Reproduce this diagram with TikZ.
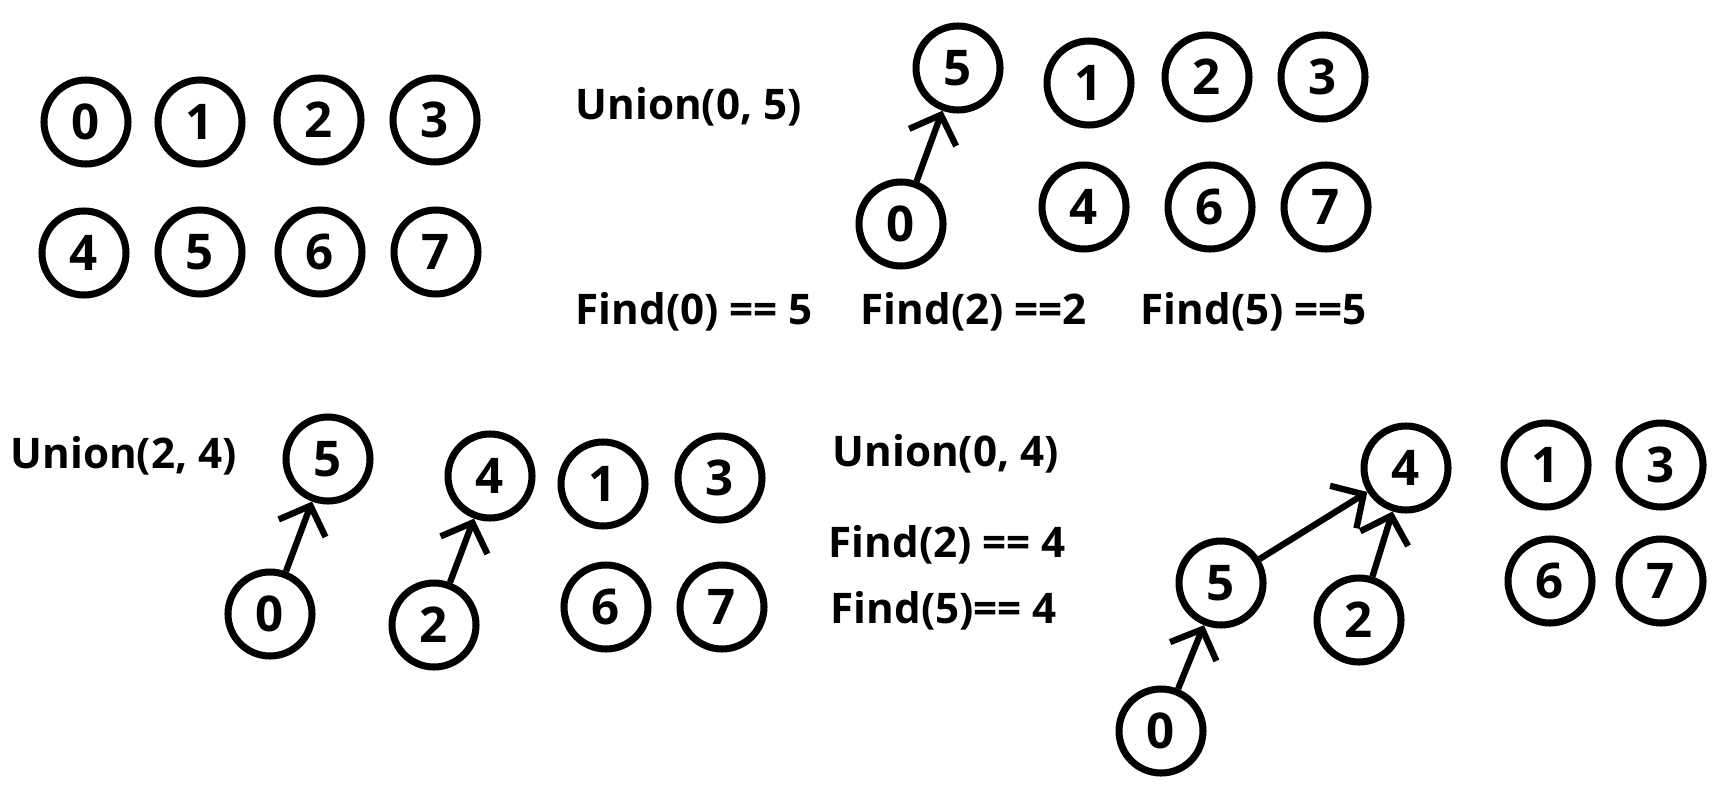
\documentclass[tikz,border=0pt]{standalone}
\usepackage{fontspec}
\setmainfont{Open Sans}
\usetikzlibrary{arrows.meta}

\begin{document}
\begin{tikzpicture}[x=1cm, y=-1cm,
	elem/.style={draw, circle, line width=2pt, minimum size=0.84cm, inner sep=0pt, font=\fontsize{14}{16}\selectfont\bfseries},
	op/.style={anchor=west, inner sep=0pt, font=\fontsize{12}{14}\selectfont\bfseries},
	link/.style={line width=1.8pt, -{Straight Barb[length=2.4mm, width=5mm, line width=1.8pt]}}]
		\useasboundingbox (0,0) rectangle (17.36,7.94);

		% start: every element alone
		\node[elem] (a0) at (0.86,1.22) {0};
		\node[elem] (a1) at (2.00,1.22) {1};
		\node[elem] (a2) at (3.19,1.20) {2};
		\node[elem] (a3) at (4.35,1.20) {3};
		\node[elem] (a4) at (0.84,2.53) {4};
		\node[elem] (a5) at (2.00,2.52) {5};
		\node[elem] (a6) at (3.20,2.52) {6};
		\node[elem] (a7) at (4.36,2.52) {7};

		% after Union(0, 5)
		\node[op] (u1) at (5.75,1.07) {Union(0, 5)};
		\node[elem] (b5) at (9.58,0.68) {5};
		\node[elem] (b0) at (9.01,2.24) {0};
		\node[elem] (b1) at (10.89,0.83) {1};
		\node[elem] (b2) at (12.07,0.77) {2};
		\node[elem] (b3) at (13.23,0.77) {3};
		\node[elem] (b4) at (10.84,2.07) {4};
		\node[elem] (b6) at (12.10,2.07) {6};
		\node[elem] (b7) at (13.26,2.07) {7};
		\draw[link] (b0) -- (b5);
		\node[op] (f1) at (5.75,3.12) {Find(0) == 5};
		\node[op] (f2) at (8.60,3.12) {Find(2) ==2};
		\node[op] (f3) at (11.40,3.12) {Find(5) ==5};

		% after Union(2, 4)
		\node[op] (u2) at (0.10,4.56) {Union(2, 4)};
		\node[elem] (c5) at (3.28,4.59) {5};
		\node[elem] (c0) at (2.70,6.14) {0};
		\node[elem] (c4) at (4.90,4.76) {4};
		\node[elem] (c2) at (4.34,6.25) {2};
		\node[elem] (c1) at (6.03,4.84) {1};
		\node[elem] (c3) at (7.20,4.78) {3};
		\node[elem] (c6) at (6.06,6.07) {6};
		\node[elem] (c7) at (7.22,6.07) {7};
		\draw[link] (c0) -- (c5);
		\draw[link] (c2) -- (c4);

		% after Union(0, 4)
		\node[op] (u3) at (8.32,4.54) {Union(0, 4)};
		\node[op] (f4) at (8.28,5.45) {Find(2) == 4};
		\node[op] (f5) at (8.30,6.11) {Find(5)== 4};
		\node[elem] (d4) at (14.06,4.68) {4};
		\node[elem] (d1) at (15.46,4.65) {1};
		\node[elem] (d3) at (16.61,4.65) {3};
		\node[elem] (d6) at (15.50,5.81) {6};
		\node[elem] (d7) at (16.61,5.81) {7};
		\node[elem] (d5) at (12.21,5.83) {5};
		\node[elem] (d2) at (13.59,6.20) {2};
		\node[elem] (d0) at (11.61,7.31) {0};
		\draw[link] (d5) -- (d4);
		\draw[link] (d2) -- (d4);
		\draw[link] (d0) -- (d5);

	\end{tikzpicture}
\end{document}
